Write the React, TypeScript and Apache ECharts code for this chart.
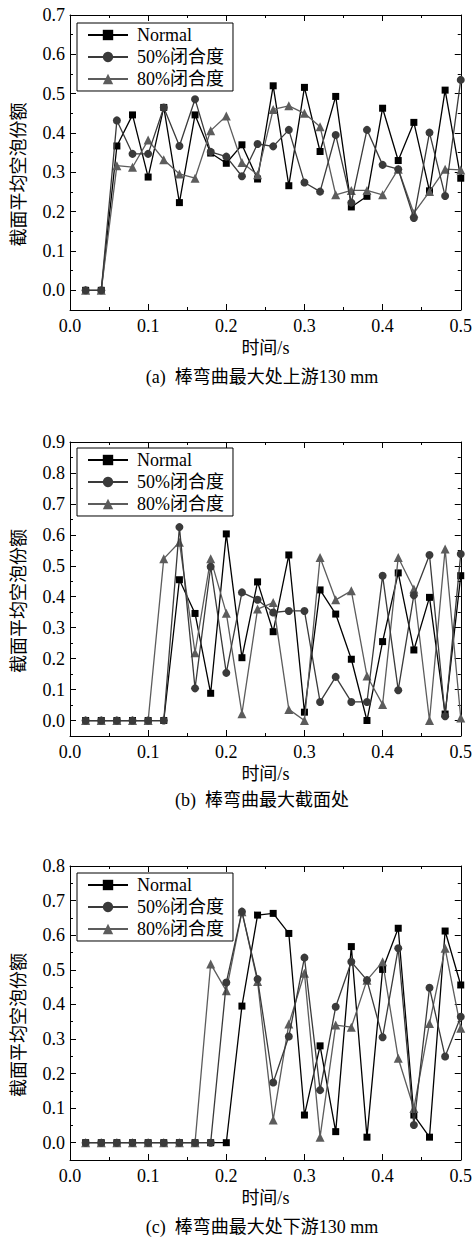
import React, { useEffect, useRef } from "react";
import * as echarts from "echarts";

// ---------- data ----------
const times = [
  0.02, 0.04, 0.06, 0.08, 0.1, 0.12, 0.14, 0.16, 0.18, 0.2, 0.22, 0.24, 0.26,
  0.28, 0.3, 0.32, 0.34, 0.36, 0.38, 0.4, 0.42, 0.44, 0.46, 0.48, 0.5,
];
const seriesNames = ["Normal", "50%闭合度", "80%闭合度"];

// (a) upstream 130 mm
const normalA = [0, 0, 0.367, 0.446, 0.288, 0.465, 0.223, 0.446, 0.349, 0.323, 0.37, 0.283, 0.52, 0.266, 0.516, 0.353, 0.493, 0.212, 0.239, 0.463, 0.33, 0.427, 0.253, 0.509, 0.285];
const fiftyA = [0, 0, 0.432, 0.347, 0.347, 0.465, 0.367, 0.486, 0.352, 0.34, 0.29, 0.372, 0.366, 0.408, 0.274, 0.251, 0.395, 0.223, 0.408, 0.319, 0.308, 0.184, 0.401, 0.24, 0.535];
const eightyA = [0, 0, 0.317, 0.313, 0.382, 0.332, 0.296, 0.285, 0.406, 0.443, 0.325, 0.294, 0.46, 0.469, 0.45, 0.416, 0.243, 0.254, 0.254, 0.243, 0.308, 0.196, 0.251, 0.308, 0.306];

// (b) max bending section
const normalB = [0, 0, 0, 0, 0, 0, 0.455, 0.346, 0.088, 0.603, 0.203, 0.448, 0.287, 0.535, 0.027, 0.422, 0.344, 0.198, 0, 0.255, 0.477, 0.228, 0.398, 0.021, 0.468];
const fiftyB = [0, 0, 0, 0, 0, 0, 0.625, 0.104, 0.497, 0.154, 0.414, 0.39, 0.349, 0.354, 0.354, 0.06, 0.141, 0.06, 0.06, 0.468, 0.098, 0.405, 0.535, 0.014, 0.538];
const eightyB = [0, 0, 0, 0, 0, 0.523, 0.576, 0.219, 0.523, 0.347, 0.022, 0.36, 0.381, 0.036, 0, 0.527, 0.39, 0.419, 0.144, 0.052, 0.527, 0.425, 0, 0.554, 0.008];

// (c) downstream 130 mm
const normalC = [0, 0, 0, 0, 0, 0, 0, 0, 0, 0, 0.395, 0.658, 0.663, 0.605, 0.08, 0.28, 0.032, 0.567, 0.016, 0.501, 0.62, 0.08, 0.016, 0.612, 0.456];
const fiftyC = [0, 0, 0, 0, 0, 0, 0, 0, 0, 0.463, 0.668, 0.473, 0.174, 0.307, 0.535, 0.152, 0.393, 0.523, 0.47, 0.305, 0.562, 0.051, 0.448, 0.249, 0.364];
const eightyC = [0, 0, 0, 0, 0, 0, 0, 0, 0.517, 0.439, 0.668, 0.466, 0.066, 0.343, 0.49, 0.016, 0.34, 0.334, 0.47, 0.523, 0.244, 0.099, 0.345, 0.562, 0.331];

// ticks
const yTicksA = [0, 0.1, 0.2, 0.3, 0.4, 0.5, 0.6, 0.7];
const yMinorA = [0.05, 0.15, 0.25, 0.35, 0.45, 0.55, 0.65];
const yTicksB = [0, 0.1, 0.2, 0.3, 0.4, 0.5, 0.6, 0.7, 0.8, 0.9];
const yMinorB = [0.05, 0.15, 0.25, 0.35, 0.45, 0.55, 0.65, 0.75, 0.85];
const yTicksC = [0, 0.1, 0.2, 0.3, 0.4, 0.5, 0.6, 0.7, 0.8];
const yMinorC = [0.05, 0.15, 0.25, 0.35, 0.45, 0.55, 0.65, 0.75];

const xName = "时间/s";
const yName = "截面平均空泡份额";
const captions = [
  "(a)  棒弯曲最大处上游130 mm",
  "(b)  棒弯曲最大截面处",
  "(c)  棒弯曲最大处下游130 mm",
];

// ---------- styles / layout ----------
const FONT = '"Liberation Serif", "Times New Roman", "Noto Sans CJK SC", serif';
const colors = ["#000000", "#3a3a3a", "#5c5c5c"];
const symbols = ["rect", "circle", "triangle"];
const symbolSizes = [7, 8, 9];
const drawOrder = [0, 2, 1];

const panels = [
  { top: 15, height: 295, yMax: 0.7, yTicks: yTicksA, yMinor: yMinorA, legendTop: 23, data: [normalA, fiftyA, eightyA], captionY: 377 },
  { top: 442, height: 294, yMax: 0.9, yTicks: yTicksB, yMinor: yMinorB, legendTop: 448, data: [normalB, fiftyB, eightyB], captionY: 800 },
  { top: 866, height: 294, yMax: 0.8, yTicks: yTicksC, yMinor: yMinorC, legendTop: 873, data: [normalC, fiftyC, eightyC], captionY: 1227 },
];

function buildOption() {
  const option: any = {
    animation: false,
    backgroundColor: "#fff",
    grid: [],
    xAxis: [],
    yAxis: [],
    series: [],
    legend: [],
    graphic: [],
  };
  const line = { show: true, onZero: false, lineStyle: { color: "#000", width: 1 } };
  const labelStyle = { color: "#000", fontFamily: FONT, fontSize: 18 };
  panels.forEach((p, i) => {
    option.grid.push({ left: 70, top: p.top, width: 396, height: p.height });
    const xBase = {
      type: "value",
      gridIndex: i,
      min: 0,
      max: 0.5,
      interval: 0.1,
      splitLine: { show: false },
      minorSplitLine: { show: false },
      axisLine: line,
      axisTick: { show: true, inside: true, length: 6, lineStyle: { color: "#000" } },
      minorTick: { show: true, splitNumber: 2, length: 3, lineStyle: { color: "#000" } },
    };
    option.xAxis.push({
      ...xBase,
      position: "bottom",
      axisLabel: { ...labelStyle, margin: 7, formatter: (v: number) => v.toFixed(1) },
      name: xName,
      nameLocation: "middle",
      nameGap: 29,
      nameTextStyle: { ...labelStyle },
    });
    option.xAxis.push({ ...xBase, position: "top", axisLabel: { show: false } });

    const yBase = {
      type: "value",
      gridIndex: i,
      min: -0.05,
      max: p.yMax,
      splitLine: { show: false },
    };
    ["left", "right"].forEach((pos) => {
      option.yAxis.push({
        ...yBase,
        position: pos,
        axisLine: line,
        axisTick: { show: true, inside: true, length: 6, customValues: p.yTicks, lineStyle: { color: "#000" } },
        axisLabel:
          pos === "left"
            ? { ...labelStyle, margin: 5, customValues: p.yTicks, formatter: (v: number) => v.toFixed(1) }
            : { show: false },
      });
      option.yAxis.push({
        ...yBase,
        position: pos,
        axisLine: { show: false, onZero: false },
        axisTick: { show: true, inside: true, length: 3, customValues: p.yMinor, lineStyle: { color: "#000" } },
        axisLabel: { show: false },
      });
    });

    drawOrder.forEach((k) => {
      option.series.push({
        type: "line",
        name: seriesNames[k],
        xAxisIndex: 2 * i,
        yAxisIndex: 4 * i,
        data: times.map((t, j) => [t, p.data[k][j]]),
        symbol: symbols[k],
        symbolSize: symbolSizes[k],
        showAllSymbol: true,
        clip: false,
        lineStyle: { color: colors[k], width: 1.3 },
        itemStyle: { color: colors[k] },
        z: 2 + (k === 1 ? 2 : k === 2 ? 1 : 0),
      });
    });

    option.legend.push({
      left: 77,
      top: p.legendTop,
      orient: "vertical",
      data: seriesNames,
      itemWidth: 40,
      itemHeight: 13,
      itemGap: 4,
      padding: [3, 9, 3, 10],
      borderColor: "#000",
      borderWidth: 1,
      borderRadius: 0,
      backgroundColor: "#fff",
      selectedMode: false,
      textStyle: { color: "#000", fontFamily: FONT, fontSize: 18, padding: [0, 0, 0, 4] },
    });

    option.graphic.push({
      type: "text",
      x: 19,
      y: p.top + p.height / 2 + 12,
      rotation: Math.PI / 2,
      style: {
        text: yName,
        fill: "#000",
        font: `18px ${FONT}`,
        align: "center",
        verticalAlign: "middle",
        textAlign: "center",
        textVerticalAlign: "middle",
      },
    });
    option.graphic.push({
      type: "text",
      x: 262,
      y: p.captionY,
      style: {
        text: captions[i],
        fill: "#000",
        font: `18px ${FONT}`,
        align: "center",
        verticalAlign: "middle",
        textAlign: "center",
        textVerticalAlign: "middle",
      },
    });
  });
  return option;
}

export default function App() {
  const ref = useRef<HTMLDivElement>(null);
  useEffect(() => {
    if (!ref.current) return;
    const chart = echarts.init(ref.current, undefined, { renderer: "svg" });
    chart.setOption(buildOption());
    return () => chart.dispose();
  }, []);
  return (
    <div
      ref={ref}
      style={{ position: "absolute", left: 0, top: 0, width: 475, height: 1238, background: "#fff" }}
    />
  );
}
